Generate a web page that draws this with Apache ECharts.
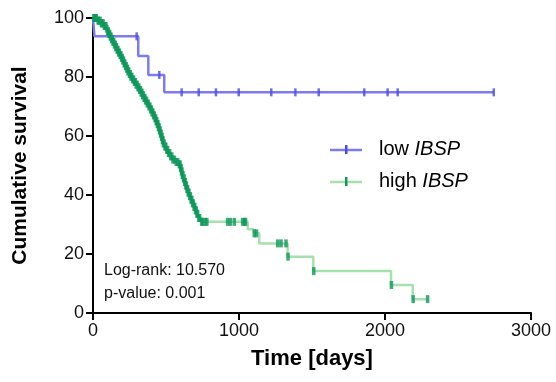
<!DOCTYPE html>
<html>
<head>
<meta charset="utf-8">
<script src="https://cdn.jsdelivr.net/npm/echarts@6/dist/echarts.min.js"></script>
<style>
  html, body { margin: 0; padding: 0; background: #fff; }
  #chart { width: 556px; height: 382px; }
</style>
</head>
<body>
<div id="chart"></div>
<script>
// low IBSP: step times (days) and survival (%)
const lowTimes = [0, 10, 310, 379, 488, 2745];
const lowSurv = [100, 93.8, 87.1, 80.7, 74.8, 74.8];
const lowCensored = [299, 454, 607, 724, 842, 998, 1221, 1386, 1546, 1858, 2018, 2087, 2745];

// high IBSP
const highTimes = [0, 30, 55, 75, 90, 100, 110, 118, 128, 137, 147, 157, 166, 176, 186, 196, 205,
  214, 223, 232, 240, 250, 260, 272, 284, 296, 308, 320, 330, 340, 350, 360, 372, 384, 395, 405,
  415, 425, 433, 441, 449, 456, 463, 470, 476, 482, 493, 505, 518, 532, 548, 570, 592, 600, 606,
  612, 620, 628, 636, 644, 652, 662, 672, 682, 692, 702, 712, 725, 745, 1060, 1100, 1139, 1333,
  1509, 2041, 2190, 2292];
const highSurv = [100, 99.1, 98.2, 97.3, 96.4, 95.5, 94.6, 93.7, 92.8, 91.9, 91.0, 90.1, 89.2, 88.3,
  87.4, 86.5, 85.6, 84.6, 83.7, 82.8, 81.9, 81.0, 80.1, 79.2, 78.3, 77.4, 76.5, 75.6, 74.7, 73.8,
  72.9, 72.0, 71.0, 70.0, 69.0, 68.0, 67.0, 66.0, 65.0, 64.0, 63.0, 61.9, 60.8, 59.7, 58.6, 57.5,
  56.4, 55.3, 54.2, 53.1, 52.0, 51.2, 50.4, 49.2, 48.0, 46.8, 45.6, 44.4, 43.2, 42.0, 40.8, 39.6,
  38.4, 37.2, 36.0, 34.8, 33.6, 32.2, 30.9, 28.4, 27.0, 23.6, 19.1, 14.2, 9.5, 4.7, 4.7];
const highCensored = [5, 12, 18, 22, 35, 40, 48, 58, 62, 70, 78, 82, 88, 95, 100, 105, 110, 114, 119,
  123, 128, 132, 137, 142, 147, 152, 157, 161, 166, 171, 176, 181, 186, 191, 196, 200, 205, 209, 214,
  218, 223, 227, 232, 236, 240, 245, 250, 255, 260, 266, 272, 278, 284, 290, 296, 302, 308, 314, 320,
  325, 330, 335, 340, 345, 350, 355, 360, 366, 372, 378, 384, 390, 395, 400, 405, 410, 415, 420, 425,
  429, 433, 437, 441, 445, 449, 452, 456, 459, 463, 466, 470, 473, 476, 479, 482, 487, 493, 499, 505,
  511, 518, 525, 532, 540, 548, 558, 570, 580, 592, 596, 600, 603, 606, 609, 612, 616, 620, 624, 628,
  632, 636, 640, 644, 648, 652, 657, 662, 667, 672, 677, 682, 687, 692, 697, 702, 707, 712, 717, 725,
  730, 745, 752, 770, 780, 922, 941, 968, 1025, 1037, 1045, 1105, 1120, 1265, 1288, 1322, 1336, 1512,
  2044, 2193, 2292];

const seriesNames = ['low', 'high'];
const lowLine = '#7c7cf0';
const lowTick = '#4a4ae6';
const highLine = '#a6e0aa';
const highTick = '#0e985a';

const toPairs = (ts, vs) => ts.map((t, i) => [t, vs[i]]);
// survival value at time t (last step at or before t)
const survAt = (ts, vs, t) => {
  let v = vs[0];
  ts.forEach((s, i) => { if (s <= t) v = vs[i]; });
  return v;
};
const censorPairs = (cs, ts, vs) => cs.map((t) => [t, survAt(ts, vs, t)]);

const chart = echarts.init(document.getElementById('chart'));
const font = 'Liberation Sans, Arial, sans-serif';

const option = {
  animation: false,
  grid: { left: 93, right: 25, top: 18, bottom: 69 },
  xAxis: {
    type: 'value',
    min: 0,
    max: 3000,
    interval: 1000,
    name: 'Time [days]',
    nameLocation: 'middle',
    nameGap: 35,
    nameTextStyle: { fontFamily: font, fontWeight: 'bold', fontSize: 22, color: '#000' },
    axisLine: { lineStyle: { color: '#000', width: 2 } },
    axisTick: { length: 7, lineStyle: { color: '#000', width: 2 } },
    axisLabel: { fontFamily: font, fontSize: 18, color: '#111', margin: 9, formatter: (v) => String(v) },
    splitLine: { show: false },
  },
  yAxis: {
    type: 'value',
    min: 0,
    max: 100,
    interval: 20,
    name: 'Cumulative survival',
    nameLocation: 'middle',
    nameGap: 62,
    nameTextStyle: { fontFamily: font, fontWeight: 'bold', fontSize: 21, color: '#000' },
    axisLine: { show: true, lineStyle: { color: '#000', width: 2 } },
    axisTick: { show: true, length: 7, lineStyle: { color: '#000', width: 2 } },
    axisLabel: { fontFamily: font, fontSize: 18, color: '#111', margin: 9 },
    splitLine: { show: false },
  },
  series: [
    {
      name: seriesNames[0],
      type: 'line',
      step: 'end',
      showSymbol: false,
      data: toPairs(lowTimes, lowSurv),
      lineStyle: { color: lowLine, width: 2.5 },
      z: 2,
    },
    {
      name: seriesNames[1],
      type: 'line',
      step: 'end',
      showSymbol: false,
      data: toPairs(highTimes, highSurv),
      lineStyle: { color: highLine, width: 2.5 },
      z: 2,
    },
    {
      type: 'scatter',
      symbol: 'rect',
      symbolSize: [2.5, 8],
      data: censorPairs(lowCensored, lowTimes, lowSurv),
      itemStyle: { color: lowTick },
      z: 3,
    },
    {
      type: 'scatter',
      symbol: 'rect',
      symbolSize: [3.5, 8],
      data: censorPairs(highCensored, highTimes, highSurv),
      itemStyle: { color: highTick },
      z: 3,
    },
  ],
  graphic: [
    { type: 'line', shape: { x1: 330, y1: 150, x2: 362, y2: 150 }, style: { stroke: lowLine, lineWidth: 2.5 } },
    { type: 'rect', shape: { x: 345, y: 145, width: 2.5, height: 9 }, style: { fill: lowTick } },
    {
      type: 'text', left: 379, top: 139,
      style: {
        text: '{n|low }{i|IBSP}',
        rich: {
          n: { fontFamily: font, fontSize: 20, fill: '#000' },
          i: { fontFamily: font, fontSize: 20, fontStyle: 'italic', fill: '#000' },
        },
      },
    },
    { type: 'line', shape: { x1: 330, y1: 182, x2: 362, y2: 182 }, style: { stroke: highLine, lineWidth: 2.5 } },
    { type: 'rect', shape: { x: 345, y: 177, width: 2.5, height: 9 }, style: { fill: highTick } },
    {
      type: 'text', left: 379, top: 171,
      style: {
        text: '{n|high }{i|IBSP}',
        rich: {
          n: { fontFamily: font, fontSize: 20, fill: '#000' },
          i: { fontFamily: font, fontSize: 20, fontStyle: 'italic', fill: '#000' },
        },
      },
    },
    {
      type: 'text', left: 104, top: 259,
      style: {
        text: 'Log-rank: 10.570\np-value: 0.001',
        fontFamily: font, fontSize: 16, lineHeight: 23, fill: '#111',
      },
    },
  ],
};

chart.setOption(option);
</script>
</body>
</html>
